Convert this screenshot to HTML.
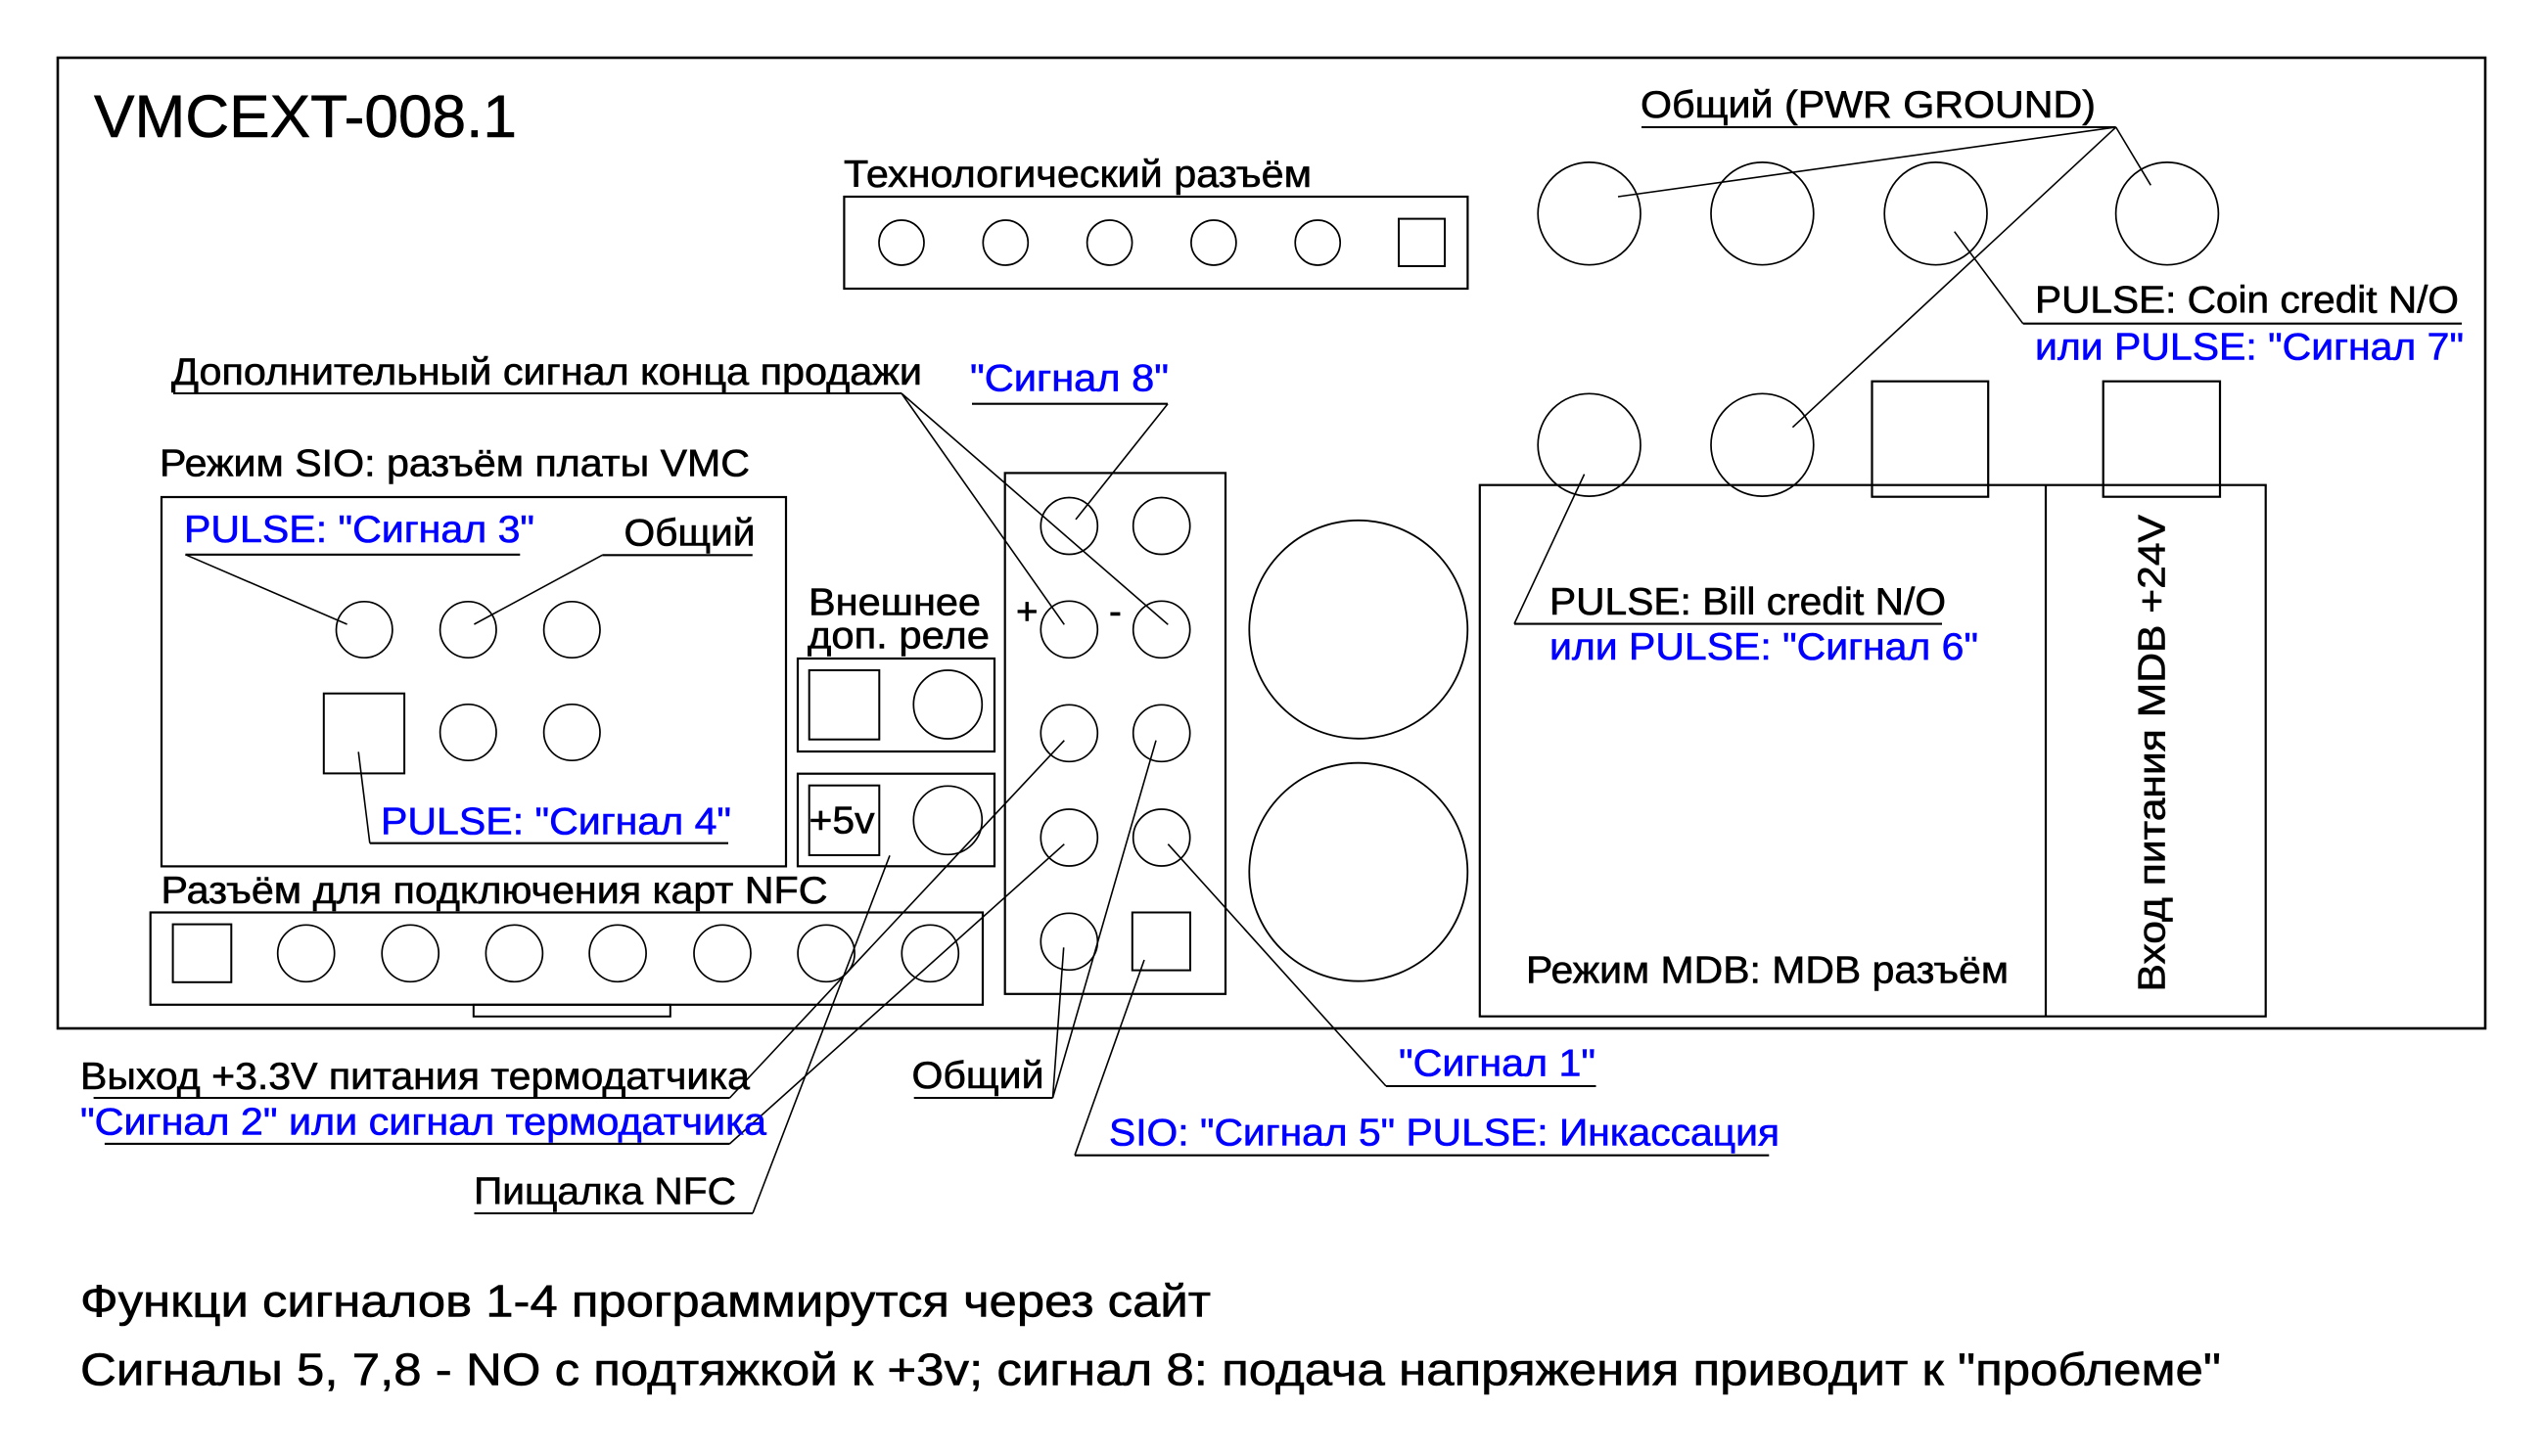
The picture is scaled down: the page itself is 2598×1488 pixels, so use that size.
<!DOCTYPE html>
<html><head><meta charset="utf-8"><style>
html,body{margin:0;padding:0;background:#fff;}
svg{display:block;}
text{font-family:"Liberation Sans",Arial,sans-serif;font-size:38.5px;fill:#000;stroke:#000;stroke-width:0.6px;}
.b{fill:#0000ff;stroke:#0000ff;}
.big{font-size:46.5px;}
</style></head><body>
<svg xmlns="http://www.w3.org/2000/svg" width="2598" height="1488" viewBox="0 0 2598 1488">
<rect x="0" y="0" width="2598" height="1488" fill="#fff"/>
<g fill="none" stroke="#000">
<rect x="59" y="59" width="2480" height="992" stroke-width="2.6"/>
<rect x="862.4" y="201" width="637" height="94" stroke-width="2.2"/>
<g stroke-width="1.7">
<circle cx="921" cy="248" r="23"/><circle cx="1027.3" cy="248" r="23"/><circle cx="1133.6" cy="248" r="23"/><circle cx="1239.9" cy="248" r="23"/><circle cx="1346.2" cy="248" r="23"/>
</g>
<rect x="1429" y="223.6" width="47" height="48.4" stroke-width="2"/>
<g stroke-width="1.7">
<circle cx="1623.6" cy="218.3" r="52.4"/><circle cx="1800.4" cy="218.3" r="52.4"/><circle cx="1977.6" cy="218.3" r="52.4"/><circle cx="2214" cy="218.3" r="52.4"/>
<circle cx="1623.6" cy="454.7" r="52.4"/><circle cx="1800.4" cy="454.7" r="52.4"/>
</g>
<rect x="1511.8" y="495.7" width="802.9" height="543" stroke-width="2.2"/>
<line x1="2090" y1="495.7" x2="2090" y2="1038.7" stroke-width="2.2"/>
<rect x="1912.5" y="389.7" width="118.7" height="118" stroke-width="2.2"/>
<rect x="2148.7" y="389.7" width="119.3" height="118" stroke-width="2.2"/>
<circle cx="1387.8" cy="643.3" r="111.5" stroke-width="1.8"/>
<circle cx="1387.8" cy="891.2" r="111.5" stroke-width="1.8"/>
<rect x="1026.7" y="483.4" width="225.3" height="532.4" stroke-width="2.2"/>
<g stroke-width="1.7">
<circle cx="1092.3" cy="537.5" r="29"/><circle cx="1186.7" cy="537.5" r="29"/>
<circle cx="1092.3" cy="643.3" r="29"/><circle cx="1186.7" cy="643.3" r="29"/>
<circle cx="1092.3" cy="749.3" r="29"/><circle cx="1186.7" cy="749.3" r="29"/>
<circle cx="1092.3" cy="856" r="29"/><circle cx="1186.7" cy="856" r="29"/>
<circle cx="1092.3" cy="962.3" r="29"/>
</g>
<rect x="1156.8" y="932.5" width="59.2" height="59.1" stroke-width="2"/>
<rect x="815" y="673" width="201" height="95" stroke-width="2.2"/>
<rect x="826.7" y="685" width="71.6" height="70.7" stroke-width="2"/>
<circle cx="968.3" cy="720" r="35" stroke-width="1.7"/>
<rect x="815" y="790.7" width="201" height="94.6" stroke-width="2.2"/>
<rect x="826.7" y="802.7" width="71.6" height="71.3" stroke-width="2"/>
<circle cx="968.3" cy="838.3" r="35" stroke-width="1.7"/>
<rect x="165" y="508" width="638" height="377.4" stroke-width="2.2"/>
<g stroke-width="1.7">
<circle cx="372.2" cy="643.5" r="28.7"/><circle cx="478.3" cy="643.5" r="28.7"/><circle cx="584.3" cy="643.5" r="28.7"/>
<circle cx="478.3" cy="748.5" r="28.7"/><circle cx="584.3" cy="748.5" r="28.7"/>
</g>
<rect x="330.8" y="708.7" width="82.3" height="81.7" stroke-width="2"/>
<rect x="153.7" y="932.5" width="850.3" height="94.3" stroke-width="2.2"/>
<rect x="483.8" y="1026.8" width="201" height="12" stroke-width="2"/>
<rect x="176.6" y="944.6" width="59.7" height="59.2" stroke-width="2"/>
<g stroke-width="1.7">
<circle cx="312.7" cy="974.3" r="29"/><circle cx="419.2" cy="974.3" r="29"/><circle cx="525.4" cy="974.3" r="29"/><circle cx="631.1" cy="974.3" r="29"/><circle cx="738" cy="974.3" r="29"/><circle cx="844.1" cy="974.3" r="29"/><circle cx="950.3" cy="974.3" r="29"/>
</g>
<g stroke-width="2.1">
<line x1="177" y1="402" x2="921" y2="402"/>
<line x1="993" y1="412.7" x2="1193" y2="412.7"/>
<line x1="189.4" y1="566.8" x2="531.3" y2="566.8"/>
<line x1="615.3" y1="567.3" x2="768.8" y2="567.3"/>
<line x1="377.8" y1="861.7" x2="744" y2="861.7"/>
<line x1="1677" y1="130" x2="2161.7" y2="130"/>
<line x1="2066.7" y1="330.7" x2="2515" y2="330.7"/>
<line x1="1547" y1="637.6" x2="1984" y2="637.6"/>
<line x1="95.6" y1="1122" x2="745.5" y2="1122"/>
<line x1="106.9" y1="1168.9" x2="745.5" y2="1168.9"/>
<line x1="484.5" y1="1240" x2="769" y2="1240"/>
<line x1="933.7" y1="1122" x2="1075.5" y2="1122"/>
<line x1="1416" y1="1110" x2="1630.5" y2="1110"/>
<line x1="1098" y1="1180.7" x2="1807.3" y2="1180.7"/>
</g>
<g stroke-width="1.6">
<line x1="921" y1="402" x2="1087.3" y2="638.3"/>
<line x1="921" y1="402" x2="1193.3" y2="638.3"/>
<line x1="1193" y1="412.7" x2="1099" y2="530.9"/>
<line x1="189.4" y1="566.8" x2="354.6" y2="638"/>
<line x1="615.3" y1="567.3" x2="484.4" y2="638"/>
<line x1="377.8" y1="861.7" x2="366.2" y2="768.4"/>
<line x1="2161.7" y1="130" x2="1653" y2="201"/>
<line x1="2161.7" y1="130" x2="2197.3" y2="189.3"/>
<line x1="2161.7" y1="130" x2="1831.4" y2="436.7"/>
<line x1="2066.7" y1="330.7" x2="1996.7" y2="236.7"/>
<line x1="1547" y1="637.6" x2="1618.6" y2="484.6"/>
<line x1="745.5" y1="1122" x2="1087.3" y2="756.7"/>
<line x1="745.5" y1="1168.9" x2="1087.3" y2="862.7"/>
<line x1="769" y1="1240" x2="909" y2="874.3"/>
<line x1="1075.5" y1="1122" x2="1086.7" y2="968.3"/>
<line x1="1075.5" y1="1122" x2="1181" y2="756.7"/>
<line x1="1098" y1="1180.7" x2="1169" y2="981"/>
<line x1="1416" y1="1110" x2="1193.3" y2="862.7"/>
</g>
</g>
<text x="96" y="140" style="font-size:61px" textLength="432" lengthAdjust="spacingAndGlyphs">VMCEXT-008.1</text>
<text x="862" y="191" textLength="478" lengthAdjust="spacingAndGlyphs">Технологический разъём</text>
<text x="1676" y="120" textLength="465" lengthAdjust="spacingAndGlyphs">Общий (PWR GROUND)</text>
<text x="2079" y="319.3" textLength="433" lengthAdjust="spacingAndGlyphs">PULSE: Coin credit N/O</text>
<text x="2079" y="367.5" class="b" textLength="438" lengthAdjust="spacingAndGlyphs">или PULSE: "Сигнал 7"</text>
<text x="175" y="393" textLength="767" lengthAdjust="spacingAndGlyphs">Дополнительный сигнал конца продажи</text>
<text x="991" y="399.4" class="b" textLength="203" lengthAdjust="spacingAndGlyphs">"Сигнал 8"</text>
<text x="163" y="486.7" textLength="603" lengthAdjust="spacingAndGlyphs">Режим SIO: разъём платы VMC</text>
<text x="188" y="554" class="b" textLength="358" lengthAdjust="spacingAndGlyphs">PULSE: "Сигнал 3"</text>
<text x="637.5" y="557.4" textLength="134" lengthAdjust="spacingAndGlyphs">Общий</text>
<text x="826" y="628.3" textLength="176" lengthAdjust="spacingAndGlyphs">Внешнее</text>
<text x="825" y="662.7" textLength="186" lengthAdjust="spacingAndGlyphs">доп. реле</text>
<text x="1038" y="638">+</text>
<text x="1133" y="638">-</text>
<text x="1583" y="628.1" textLength="405" lengthAdjust="spacingAndGlyphs">PULSE: Bill credit N/O</text>
<text x="1583" y="674" class="b" textLength="438" lengthAdjust="spacingAndGlyphs">или PULSE: "Сигнал 6"</text>
<text x="826.5" y="851.7" textLength="67" lengthAdjust="spacingAndGlyphs">+5v</text>
<text x="389" y="852.3" class="b" textLength="358" lengthAdjust="spacingAndGlyphs">PULSE: "Сигнал 4"</text>
<text x="164.5" y="923" textLength="681" lengthAdjust="spacingAndGlyphs">Разъём для подключения карт NFC</text>
<text x="1559" y="1004.7" textLength="493" lengthAdjust="spacingAndGlyphs">Режим MDB: MDB разъём</text>
<text transform="translate(2211.5,1013.5) rotate(-90)" x="0" y="0" style="font-size:39px" textLength="487.5" lengthAdjust="spacingAndGlyphs">Вход питания MDB +24V</text>
<text x="82" y="1113" textLength="684" lengthAdjust="spacingAndGlyphs">Выход +3.3V питания термодатчика</text>
<text x="82" y="1159.5" class="b" textLength="701" lengthAdjust="spacingAndGlyphs">"Сигнал 2" или сигнал термодатчика</text>
<text x="484" y="1230.7" textLength="268" lengthAdjust="spacingAndGlyphs">Пищалка NFC</text>
<text x="931.5" y="1112" textLength="135" lengthAdjust="spacingAndGlyphs">Общий</text>
<text x="1429" y="1099.5" class="b" textLength="201" lengthAdjust="spacingAndGlyphs">"Сигнал 1"</text>
<text x="1133" y="1170.7" class="b" textLength="685" lengthAdjust="spacingAndGlyphs">SIO: "Сигнал 5" PULSE: Инкассация</text>
<text x="82" y="1345.5" class="big" textLength="1155" lengthAdjust="spacingAndGlyphs">Функци сигналов 1-4 программирутся через сайт</text>
<text x="82" y="1415.5" class="big" textLength="2187" lengthAdjust="spacingAndGlyphs">Сигналы 5, 7,8 - NO с подтяжкой к +3v; сигнал 8: подача напряжения приводит к "проблеме"</text>
</svg>
</body></html>
